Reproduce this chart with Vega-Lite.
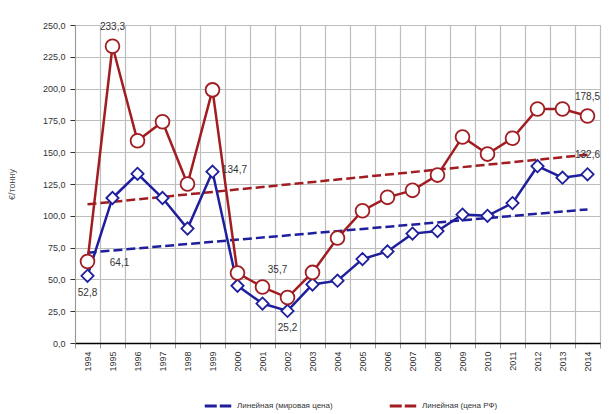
{
  "$schema": "https://vega.github.io/schema/vega-lite/v6.json",
  "width": 525,
  "height": 318,
  "autosize": {"type": "none"},
  "padding": {"left": 75, "top": 25, "right": 16, "bottom": 71},
  "background": "white",
  "config": {
    "locale": {"number": {"decimal": ",", "thousands": " ", "grouping": [3], "currency": ["", " €"]}},
    "font": "Liberation Sans",
    "view": {"stroke": "#bdbdbd", "strokeWidth": 1},
    "axis": {"labelFont": "Liberation Sans", "labelFontSize": 9, "labelColor": "#333", "gridColor": "#bdbdbd", "gridWidth": 1.2, "titleFont": "Liberation Sans", "titleFontWeight": "normal"}
  },
  "datasets": {
    "main": [
      {"year": "1994", "series": "red", "value": 64.1},
      {"year": "1995", "series": "red", "value": 233.3},
      {"year": "1996", "series": "red", "value": 159},
      {"year": "1997", "series": "red", "value": 174},
      {"year": "1998", "series": "red", "value": 125},
      {"year": "1999", "series": "red", "value": 199},
      {"year": "2000", "series": "red", "value": 55},
      {"year": "2001", "series": "red", "value": 44},
      {"year": "2002", "series": "red", "value": 35.7},
      {"year": "2003", "series": "red", "value": 55.5},
      {"year": "2004", "series": "red", "value": 82.5},
      {"year": "2005", "series": "red", "value": 104},
      {"year": "2006", "series": "red", "value": 114.5},
      {"year": "2007", "series": "red", "value": 120},
      {"year": "2008", "series": "red", "value": 132},
      {"year": "2009", "series": "red", "value": 162},
      {"year": "2010", "series": "red", "value": 148.5},
      {"year": "2011", "series": "red", "value": 161},
      {"year": "2012", "series": "red", "value": 184},
      {"year": "2013", "series": "red", "value": 184},
      {"year": "2014", "series": "red", "value": 178.5},
      {"year": "1994", "series": "blue", "value": 52.8},
      {"year": "1995", "series": "blue", "value": 114},
      {"year": "1996", "series": "blue", "value": 133},
      {"year": "1997", "series": "blue", "value": 114},
      {"year": "1998", "series": "blue", "value": 90},
      {"year": "1999", "series": "blue", "value": 134.7},
      {"year": "2000", "series": "blue", "value": 45},
      {"year": "2001", "series": "blue", "value": 31},
      {"year": "2002", "series": "blue", "value": 25.2},
      {"year": "2003", "series": "blue", "value": 46},
      {"year": "2004", "series": "blue", "value": 49},
      {"year": "2005", "series": "blue", "value": 66},
      {"year": "2006", "series": "blue", "value": 72},
      {"year": "2007", "series": "blue", "value": 86},
      {"year": "2008", "series": "blue", "value": 88},
      {"year": "2009", "series": "blue", "value": 101},
      {"year": "2010", "series": "blue", "value": 100},
      {"year": "2011", "series": "blue", "value": 110},
      {"year": "2012", "series": "blue", "value": 139},
      {"year": "2013", "series": "blue", "value": 130},
      {"year": "2014", "series": "blue", "value": 132.6}
    ],
    "trend": [
      {"year": "1994", "name": "Линейная (мировая цена)", "value": 71},
      {"year": "2014", "name": "Линейная (мировая цена)", "value": 105},
      {"year": "1994", "name": "Линейная (цена РФ)", "value": 109},
      {"year": "2014", "name": "Линейная (цена РФ)", "value": 148}
    ]
  },
  "encoding": {
    "x": {
      "field": "year", "type": "ordinal",
      "scale": {"type": "band", "paddingInner": 0, "paddingOuter": 0},
      "axis": {"title": null, "labelAngle": 270, "grid": true, "tickBand": "extent", "domainColor": "#000", "domainWidth": 1.5, "tickColor": "#999", "tickSize": 5, "labelPadding": 3}
    },
    "y": {
      "field": "value", "type": "quantitative",
      "scale": {"domain": [0, 250], "nice": false},
      "axis": {"title": "€/тонну", "titleFontSize": 9, "titleColor": "#555", "titlePadding": 26, "values": [0, 25, 50, 75, 100, 125, 150, 175, 200, 225, 250], "format": ".1f", "domainColor": "#999", "tickColor": "#333", "tickSize": 5, "labelPadding": 5}
    }
  },
  "layer": [
    {
      "data": {"name": "trend"},
      "mark": {"type": "line", "strokeWidth": 2.5, "strokeDash": [9, 4]},
      "encoding": {
        "color": {
          "field": "name", "type": "nominal",
          "scale": {"domain": ["Линейная (мировая цена)", "Линейная (цена РФ)"], "range": ["#1f1f9e", "#a11d22"]},
          "legend": {"title": null, "orient": "none", "legendX": 128, "legendY": 366, "direction": "horizontal", "symbolType": "stroke", "symbolStrokeWidth": 3, "symbolDash": [12, 3], "symbolSize": 700, "labelFontSize": 8, "labelColor": "#333", "columnPadding": 50, "labelFont": "Liberation Sans"}
        }
      }
    },
    {
      "data": {"name": "main"},
      "mark": {"type": "line", "strokeWidth": 2.5},
      "encoding": {
        "color": {"field": "series", "type": "nominal", "scale": null},
        "stroke": {"field": "series", "type": "nominal", "scale": {"domain": ["blue", "red"], "range": ["#1f1f9e", "#a11d22"]}, "legend": null}
      }
    },
    {
      "data": {"name": "main"},
      "transform": [{"filter": "datum.series == 'blue'"}],
      "mark": {"type": "point", "shape": "diamond", "filled": true, "fill": "white", "opacity": 1, "fillOpacity": 1, "stroke": "#1f1f9e", "strokeWidth": 1.8, "size": 150}
    },
    {
      "data": {"name": "main"},
      "transform": [{"filter": "datum.series == 'red'"}],
      "mark": {"type": "point", "shape": "circle", "filled": true, "fill": "white", "opacity": 1, "fillOpacity": 1, "stroke": "#a11d22", "strokeWidth": 1.8, "size": 190}
    },
    {
      "data": {"name": "main"},
      "transform": [{"filter": "(datum.series == 'blue' && (datum.year == '1994' || datum.year == '2002'))"}],
      "mark": {"type": "text", "dy": 17, "fontSize": 10, "color": "#333"},
      "encoding": {"text": {"field": "value", "type": "quantitative", "format": ".1f"}}
    },
    {
      "data": {"name": "main"},
      "transform": [{"filter": "(datum.series == 'red' && (datum.year == '1995' || datum.year == '2014')) || (datum.series == 'blue' && datum.year == '2014')"}],
      "mark": {"type": "text", "dy": -19, "fontSize": 10, "color": "#333"},
      "encoding": {"text": {"field": "value", "type": "quantitative", "format": ".1f"}}
    },
    {
      "data": {"name": "main"},
      "transform": [{"filter": "datum.series == 'red' && datum.year == '1994'"}],
      "mark": {"type": "text", "dx": 32, "dy": 2, "fontSize": 10, "color": "#333"},
      "encoding": {"text": {"field": "value", "type": "quantitative", "format": ".1f"}}
    },
    {
      "data": {"name": "main"},
      "transform": [{"filter": "datum.series == 'blue' && datum.year == '1999'"}],
      "mark": {"type": "text", "dx": 22, "dy": -2, "fontSize": 10, "color": "#333"},
      "encoding": {"text": {"field": "value", "type": "quantitative", "format": ".1f"}}
    },
    {
      "data": {"name": "main"},
      "transform": [{"filter": "datum.series == 'red' && datum.year == '2002'"}],
      "mark": {"type": "text", "dx": -10, "dy": -28, "fontSize": 10, "color": "#333"},
      "encoding": {"text": {"field": "value", "type": "quantitative", "format": ".1f"}}
    }
  ]
}
